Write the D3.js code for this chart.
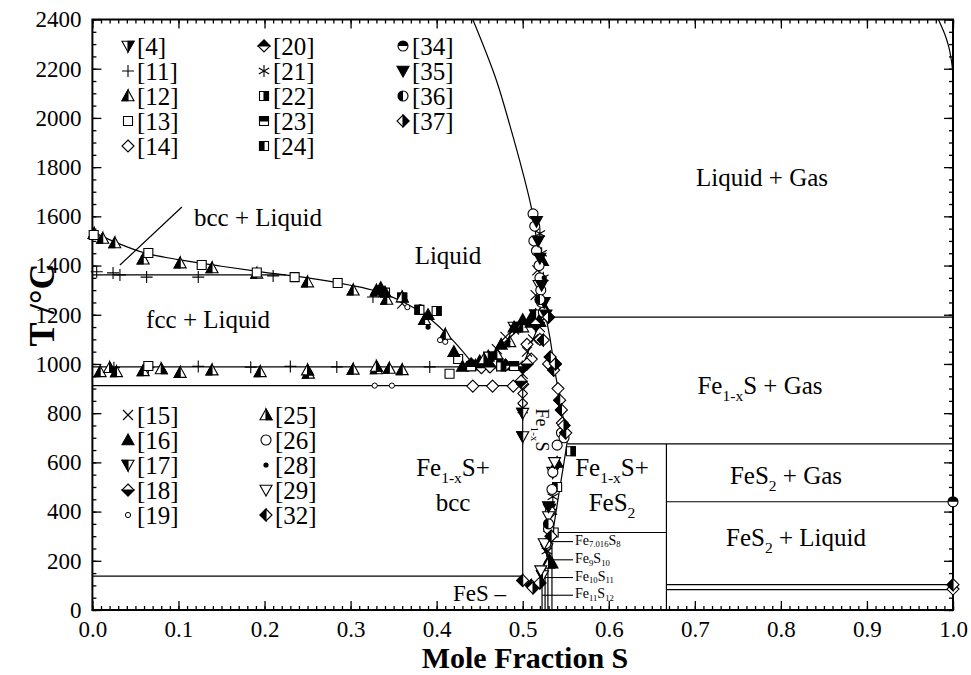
<!DOCTYPE html>
<html>
<head>
<meta charset="utf-8">
<script src="https://cdn.jsdelivr.net/npm/d3@7"></script>
<style>
  body { margin: 0; background: #fff; }
  text { font-family: "Liberation Serif", "Times New Roman", serif; fill: #000; }
</style>
</head>
<body>
<div id="chart"></div>
<script>
var svgWidth = 971;
var svgHeight = 675;

// phase boundaries, [mole fraction S, T in °C]
var liquidusFe = [[0, 1538], [0.03, 1490], [0.06, 1452], [0.1, 1424], [0.15, 1397], [0.2, 1372], [0.25, 1350], [0.3, 1320], [0.33, 1296], [0.36, 1254], [0.39, 1190], [0.42, 1092], [0.445, 988]];
var liquidusS = [[0.445, 988], [0.47, 1060], [0.5, 1155], [0.52, 1187], [0.527, 1192]];
var solidusLeft = [[0.5, 988], [0.51, 1085], [0.52, 1165], [0.527, 1192]];
var pyrrhotiteRight = [[0.527, 1192], [0.532, 1100], [0.538, 960], [0.545, 820], [0.552, 690], [0.548, 600], [0.541, 450], [0.535, 315], [0.528, 220]];
var gasBoundary = [[0.442, 2400], [0.47, 2147], [0.485, 1971], [0.5, 1780], [0.511, 1619], [0.518, 1450], [0.522, 1300], [0.527, 1192]];
var sulfurGas = [[0.983, 2400], [0.991, 2335], [0.995, 2290], [0.9985, 2225], [1.0, 2180]];
var bccPointer = [[0.104, 1638], [0.032, 1402]];

// isotherms [x from, x to, T]
var isotherms = [[0, 0.225, 1362], [0, 0.5, 988], [0, 0.5, 912], [0, 0.5, 138], [0.53, 1, 1190], [0.552, 1, 675], [0.667, 1, 440], [0.667, 1, 103], [0.667, 1, 83], [0.534, 0.667, 315]];
// vertical lines [x, T from, T to]
var verticals = [[0.5, 138, 988], [0.667, 0, 675], [0.534, 0, 315], [0.5293, 0, 232], [0.526, 0, 200], [0.5225, 0, 168]];

// sulfide compounds: [Fe index, S index, x, T of leader line]
var compounds = [["7.016", "8", 0.534, 278], ["9", "10", 0.5293, 204], ["10", "11", 0.526, 132], ["11", "12", 0.5225, 60]];

var xTicks = [0, 0.1, 0.2, 0.3, 0.4, 0.5, 0.6, 0.7, 0.8, 0.9, 1.0];
var yTicks = [0, 200, 400, 600, 800, 1000, 1200, 1400, 1600, 1800, 2000, 2200, 2400];

// experimental points per reference
var ref4 = [[0.47, 1000], [0.49, 1150], [0.519, 1320], [0.535, 560], [0.531, 410]];
var ref11 = [[0.005, 1375], [0.024, 1370], [0.032, 1362], [0.063, 1353], [0.123, 1353], [0.21, 1358], [0.326, 1272], [0.025, 985], [0.065, 985], [0.123, 990], [0.184, 987], [0.23, 990], [0.284, 988], [0.392, 988], [0.46, 990]];
var ref12 = [[0.002, 1530], [0.012, 1510], [0.026, 1492], [0.059, 1426], [0.102, 1410], [0.139, 1390], [0.191, 1368], [0.25, 1333], [0.303, 1300], [0.33, 1296], [0.342, 1262], [0.386, 1180], [0.41, 1120], [0.009, 968], [0.028, 968], [0.059, 972], [0.102, 965], [0.139, 975], [0.195, 968], [0.251, 962], [0.303, 978], [0.33, 980], [0.345, 982], [0.36, 976], [0.455, 1000], [0.47, 1040], [0.485, 1090], [0.5, 1150], [0.51, 1170]];
var ref13 = [[0.0015, 1524], [0.065, 1451], [0.127, 1402], [0.191, 1372], [0.235, 1353], [0.285, 1329], [0.065, 992], [0.34, 1290], [0.425, 1020], [0.415, 960]];
var ref14 = [[0.442, 910], [0.465, 910], [0.489, 910], [0.5, 918], [0.52, 1100], [0.53, 1000], [0.541, 900], [0.546, 760], [0.505, 1080], [0.51, 1020], [1.0, 85]];
var ref15 = [[0.47, 1060], [0.48, 1110], [0.5, 960], [0.5, 900], [0.5, 860], [0.5, 820], [0.505, 1050], [0.512, 1100], [0.52, 1150], [0.515, 1280], [0.517, 1380], [0.49, 1140], [0.36, 1245]];
var ref16 = [[0.33, 1300], [0.335, 1310], [0.34, 1292], [0.39, 1200], [0.42, 1050], [0.43, 990], [0.445, 995], [0.45, 1012], [0.46, 1032], [0.475, 1080], [0.49, 1150], [0.5, 1180], [0.51, 1190], [0.515, 1200], [0.525, 1230], [0.52, 1172], [0.531, 205], [0.534, 190], [0.54, 600], [0.523, 1420], [0.48, 995]];
var ref17 = [[0.5, 800], [0.5, 705], [0.528, 250], [0.523, 140], [0.515, 1200]];
var ref18 = [[0.5, 988], [0.498, 930], [0.515, 1160], [0.505, 1000]];
var ref19 = [[0.328, 912], [0.348, 912], [0.366, 1231], [0.381, 1231], [0.404, 1097], [0.41, 1090]];
var ref20 = [[0.44, 1000], [0.452, 985], [0.462, 988], [0.48, 995]];
var ref21 = [[0.52, 1530], [0.522, 1450], [0.524, 1350], [0.53, 330], [0.534, 400], [0.535, 460], [0.528, 240]];
var ref22 = [[0.556, 645], [0.4, 1215], [0.46, 1030], [0.475, 990]];
var ref23 = [[0.36, 1270], [0.44, 990], [0.49, 992]];
var ref24 = [[0.38, 1220], [0.536, 315], [0.54, 500]];
var ref25 = [[0.02, 985], [0.08, 980], [0.25, 975], [0.33, 990], [0.36, 1272], [0.455, 1020], [0.53, 190]];
var ref26 = [[0.512, 1610], [0.514, 1560], [0.513, 1500], [0.516, 1460], [0.519, 1400], [0.52, 1350], [0.521, 1300], [0.522, 1250], [0.524, 1210], [0.545, 720], [0.548, 700], [0.54, 670], [0.535, 560], [0.534, 490], [0.532, 400], [0.53, 330], [0.527, 270]];
var ref28 = [[0.525, 1350], [0.53, 290], [0.39, 1150]];
var ref29 = [[0.525, 270], [0.521, 160], [0.53, 380], [0.537, 600]];
var ref32 = [[0.524, 1097], [0.532, 1028], [0.536, 975], [0.543, 853], [0.545, 813], [0.55, 720], [0.533, 300], [0.5, 120], [0.51, 100], [1.0, 103]];
var ref34 = [[1.0, 440]];
var ref35 = [[0.516, 1580], [0.518, 1500], [0.52, 1430], [0.522, 1320], [0.525, 1250], [0.527, 1200], [0.53, 420]];
var ref36 = [[0.52, 1262], [0.53, 350]];
var ref37 = [[0.53, 1190], [0.538, 1000], [0.548, 750], [0.512, 90], [0.52, 110]];

var series = [
  ["4", "triDownHalfR", ref4], ["11", "plus", ref11], ["12", "triUpHalfL", ref12],
  ["13", "square", ref13], ["14", "diamond", ref14], ["15", "cross", ref15],
  ["16", "triUpFill", ref16], ["17", "triDownHalfL", ref17], ["18", "diamondHalfB", ref18],
  ["19", "circleSmall", ref19], ["20", "diamondHalfT", ref20], ["21", "asterisk", ref21],
  ["22", "squareHalfR", ref22], ["23", "squareHalfT", ref23], ["24", "squareHalfL", ref24],
  ["25", "triUpHalfR", ref25], ["26", "circle", ref26], ["28", "dot", ref28],
  ["29", "triDown", ref29], ["32", "diamondHalfL", ref32], ["34", "circleHalfT", ref34],
  ["35", "triDownFill", ref35], ["36", "circleHalfL", ref36], ["37", "diamondHalfR", ref37]
];

var svg = d3.select("#chart")
  .append("svg")
  .attr("width", svgWidth)
  .attr("height", svgHeight);

var xScale = d3.scaleLinear().domain([0, 1]).range([92.4, 953]);
var yScale = d3.scaleLinear().domain([0, 2400]).range([610, 19.5]);

function pts(list) {
  return list.map(function(p) { return [p[0], p[1]].join(","); }).join(" ");
}

// draw one marker symbol centred on (cx, cy)
function marker(g, type, cx, cy) {
  var s = 6;
  var ink = "#000";
  function poly(p, fill) {
    g.append("polygon").attr("points", pts(p)).attr("fill", fill)
      .attr("stroke", ink).attr("stroke-width", 1.1).attr("stroke-linejoin", "miter");
  }
  var up = [[cx, cy - s], [cx - s, cy + 0.8 * s], [cx + s, cy + 0.8 * s]];
  var dn = [[cx, cy + s], [cx - s, cy - 0.8 * s], [cx + s, cy - 0.8 * s]];
  var dm = [[cx, cy - s], [cx + s, cy], [cx, cy + s], [cx - s, cy]];
  var q = 4.5;
  var sq = [[cx - q, cy - q], [cx + q, cy - q], [cx + q, cy + q], [cx - q, cy + q]];
  var r = 5;
  switch (type) {
    case "triUpFill": poly(up, ink); break;
    case "triUpHalfL": poly(up, "#fff"); poly([up[0], up[1], [cx, cy + 0.8 * s]], ink); break;
    case "triUpHalfR": poly(up, "#fff"); poly([up[0], [cx, cy + 0.8 * s], up[2]], ink); break;
    case "triDown": poly(dn, "#fff"); break;
    case "triDownFill": poly(dn, ink); break;
    case "triDownHalfR": poly(dn, "#fff"); poly([dn[0], [cx, cy - 0.8 * s], dn[2]], ink); break;
    case "triDownHalfL": poly(dn, "#fff"); poly([dn[0], dn[1], [cx, cy - 0.8 * s]], ink); break;
    case "diamond": poly(dm, "#fff"); break;
    case "diamondHalfT": poly(dm, "#fff"); poly([dm[3], dm[0], dm[1]], ink); break;
    case "diamondHalfB": poly(dm, "#fff"); poly([dm[3], dm[2], dm[1]], ink); break;
    case "diamondHalfL": poly(dm, "#fff"); poly([dm[0], dm[3], dm[2]], ink); break;
    case "diamondHalfR": poly(dm, "#fff"); poly([dm[0], dm[1], dm[2]], ink); break;
    case "square": poly(sq, "#fff"); break;
    case "squareHalfR": poly(sq, "#fff"); poly([[cx, cy - q], sq[1], sq[2], [cx, cy + q]], ink); break;
    case "squareHalfL": poly(sq, "#fff"); poly([sq[0], [cx, cy - q], [cx, cy + q], sq[3]], ink); break;
    case "squareHalfT": poly(sq, "#fff"); poly([sq[0], sq[1], [cx + q, cy], [cx - q, cy]], ink); break;
    case "circle":
      g.append("circle").attr("cx", cx).attr("cy", cy).attr("r", r)
        .attr("fill", "#fff").attr("stroke", ink).attr("stroke-width", 1.1);
      break;
    case "circleSmall":
      g.append("circle").attr("cx", cx).attr("cy", cy).attr("r", 2.6)
        .attr("fill", "#fff").attr("stroke", ink).attr("stroke-width", 1);
      break;
    case "dot":
      g.append("circle").attr("cx", cx).attr("cy", cy).attr("r", 2.6).attr("fill", ink);
      break;
    case "circleHalfT":
    case "circleHalfL":
      g.append("circle").attr("cx", cx).attr("cy", cy).attr("r", r)
        .attr("fill", "#fff").attr("stroke", ink).attr("stroke-width", 1.1);
      var d = type === "circleHalfT"
        ? `M${cx - r},${cy} A${r},${r} 0 0 1 ${cx + r},${cy} Z`
        : `M${cx},${cy - r} A${r},${r} 0 0 0 ${cx},${cy + r} Z`;
      g.append("path").attr("d", d).attr("fill", ink);
      break;
    case "plus":
      g.append("path").attr("d", `M${cx - s},${cy}H${cx + s}M${cx},${cy - s}V${cy + s}`)
        .attr("stroke", ink).attr("stroke-width", 1.1);
      break;
    case "cross":
      g.append("path").attr("d", `M${cx - 5},${cy - 5}L${cx + 5},${cy + 5}M${cx - 5},${cy + 5}L${cx + 5},${cy - 5}`)
        .attr("stroke", ink).attr("stroke-width", 1.1);
      break;
    case "asterisk":
      g.append("path").attr("d", `M${cx},${cy - 6}V${cy + 6}M${cx - 5.2},${cy - 3}L${cx + 5.2},${cy + 3}M${cx - 5.2},${cy + 3}L${cx + 5.2},${cy - 3}`)
        .attr("stroke", ink).attr("stroke-width", 1.1);
      break;
  }
}

// frame ticks: major and minor, all pointing inward
function tickAxis(axisFn, scale, values, size, translate, withLabels, fmt) {
  var ax = axisFn(scale).tickValues(values).tickSizeInner(size).tickSizeOuter(0).tickPadding(11);
  if (withLabels) ax.tickFormat(fmt); else ax.tickFormat("");
  var g = svg.append("g").attr("transform", translate).call(ax)
    .attr("font-family", "'Liberation Serif', serif")
    .attr("font-size", 23);
  g.select(".domain").remove();
  g.selectAll("line").attr("stroke", "#000").attr("stroke-width", 1.3);
  g.selectAll("text")
    .style("font-size", "23px")
    .style("font-family", "'Liberation Serif', 'Times New Roman', serif");
  return g;
}

var xMinor = d3.range(0, 101).map(function(i) { return i / 100; });
var yMinor = d3.range(0, 49).map(function(i) { return i * 50; });

tickAxis(d3.axisBottom, xScale, xMinor, -4, "translate(0,610)", false);
tickAxis(d3.axisBottom, xScale, xTicks, -9, "translate(0,610)", true, d3.format(".1f"));
tickAxis(d3.axisTop, xScale, xMinor, -4, "translate(0,19.5)", false);
tickAxis(d3.axisTop, xScale, xTicks, -9, "translate(0,19.5)", false);
tickAxis(d3.axisLeft, yScale, yMinor, -4, "translate(92.4,0)", false);
tickAxis(d3.axisLeft, yScale, yTicks, -9, "translate(92.4,0)", true, d3.format("d"));
tickAxis(d3.axisRight, yScale, yMinor, -4, "translate(953,0)", false);
tickAxis(d3.axisRight, yScale, yTicks, -9, "translate(953,0)", false);

svg.append("rect")
  .attr("x", 92.4).attr("y", 19.5)
  .attr("width", 953 - 92.4).attr("height", 610 - 19.5)
  .attr("fill", "none").attr("stroke", "#000").attr("stroke-width", 2);

var plot = svg.append("g");
var line = d3.line().x(function(d) { return xScale(d[0]); }).y(function(d) { return yScale(d[1]); });
var smooth = d3.line().curve(d3.curveMonotoneY)
  .x(function(d) { return xScale(d[0]); }).y(function(d) { return yScale(d[1]); });

[liquidusFe].forEach(function(c) {
  plot.append("path").attr("d", line.curve(d3.curveCatmullRom)(c))
    .attr("fill", "none").attr("stroke", "#000").attr("stroke-width", 1.2);
});
line.curve(d3.curveLinear);
[liquidusS, solidusLeft, pyrrhotiteRight, bccPointer].forEach(function(c) {
  plot.append("path").attr("d", line(c))
    .attr("fill", "none").attr("stroke", "#000").attr("stroke-width", 1.2);
});
[gasBoundary, sulfurGas].forEach(function(c) {
  plot.append("path").attr("d", smooth(c))
    .attr("fill", "none").attr("stroke", "#000").attr("stroke-width", 1.2);
});

plot.selectAll(".iso")
  .data(isotherms)
  .enter()
  .append("line")
  .attr("x1", d => xScale(d[0]))
  .attr("x2", d => xScale(d[1]))
  .attr("y1", d => yScale(d[2]))
  .attr("y2", d => yScale(d[2]))
  .attr("stroke", "#000").attr("stroke-width", 1.2);

plot.selectAll(".vert")
  .data(verticals)
  .enter()
  .append("line")
  .attr("x1", d => xScale(d[0]))
  .attr("x2", d => xScale(d[0]))
  .attr("y1", d => yScale(d[1]))
  .attr("y2", d => yScale(d[2]))
  .attr("stroke", "#000").attr("stroke-width", 1.2);

// experimental points
var marks = svg.append("g");
series.forEach(function(s) {
  s[2].forEach(function(p) {
    marker(marks, s[1], xScale(p[0]), yScale(p[1]));
  });
});

// legends
var legendTop = [[128, 46, 0], [128, 71, 1], [128, 96, 2], [128, 121, 3], [128, 146, 4],
  [264, 46, 10], [264, 71, 11], [264, 96, 12], [264, 121, 13], [264, 146, 14],
  [403, 46, 20], [403, 71, 21], [403, 96, 22], [403, 121, 23]];
var legendBottom = [[128, 415, 5], [128, 440, 6], [128, 465, 7], [128, 490, 8], [128, 515, 9],
  [266, 415, 15], [266, 440, 16], [266, 465, 17], [266, 490, 18], [266, 515, 19]];
var legend = svg.append("g");
legendTop.concat(legendBottom).forEach(function(l) {
  var s = series[l[2]];
  marker(legend, s[1], l[0], l[1]);
  legend.append("text")
    .attr("x", l[0] + 9).attr("y", l[1] + 9)
    .style("font-size", "25px")
    .text("[" + s[0] + "]");
});

// region labels
function label(x, y, parts, size, anchor, drop) {
  var k = drop || 0.28;
  var t = svg.append("text").attr("x", x).attr("y", y)
    .attr("text-anchor", anchor || "middle").style("font-size", size + "px");
  parts.forEach(function(p) {
    var sp = t.append("tspan").text(p[0]);
    if (p[1] === "sub") sp.attr("dy", size * k).style("font-size", (size * 0.62) + "px");
    if (p[1] === "up") sp.attr("dy", -size * k);
  });
  return t;
}

label(448, 264, [["Liquid"]], 25);
label(762, 186, [["Liquid + Gas"]], 25);
label(258, 226, [["bcc + Liquid"]], 25);
label(208, 328, [["fcc + Liquid"]], 25);
label(760, 394, [["Fe"], ["1-x", "sub"], ["S + Gas", "up"]], 25);
label(453, 476, [["Fe"], ["1-x", "sub"], ["S+", "up"]], 25);
label(453, 511, [["bcc"]], 25);
label(612, 476, [["Fe"], ["1-x", "sub"], ["S+", "up"]], 25);
label(612, 511, [["FeS"], ["2", "sub"]], 25);
label(786, 484, [["FeS"], ["2", "sub"], [" + Gas", "up"]], 25);
label(796, 546, [["FeS"], ["2", "sub"], [" + Liquid", "up"]], 25);
label(453, 601, [["FeS  \u2013"]], 23, "start");

label(0, 0, [["Fe"], ["1-x", "sub"], ["S", "up"]], 18, "middle")
  .attr("transform", "translate(536,430) rotate(90)");

// compound leaders and names
compounds.forEach(function(c) {
  var y = yScale(c[3]);
  svg.append("line")
    .attr("x1", xScale(c[2])).attr("x2", 573)
    .attr("y1", y).attr("y2", y)
    .attr("stroke", "#000").attr("stroke-width", 1.1);
  label(575, y + 3, [["Fe"], [c[0], "sub"], ["S", "up"], [c[1], "sub"]], 14, "start", 0.2);
});

// axis titles
svg.append("text")
  .attr("transform", "translate(54,305) rotate(-90)")
  .attr("text-anchor", "middle")
  .style("font-size", "36px").style("font-weight", "bold")
  .text("T /°C");

svg.append("text")
  .attr("x", 525).attr("y", 668)
  .attr("text-anchor", "middle")
  .style("font-size", "30px").style("font-weight", "bold")
  .text("Mole Fraction S");
</script>
</body>
</html>
